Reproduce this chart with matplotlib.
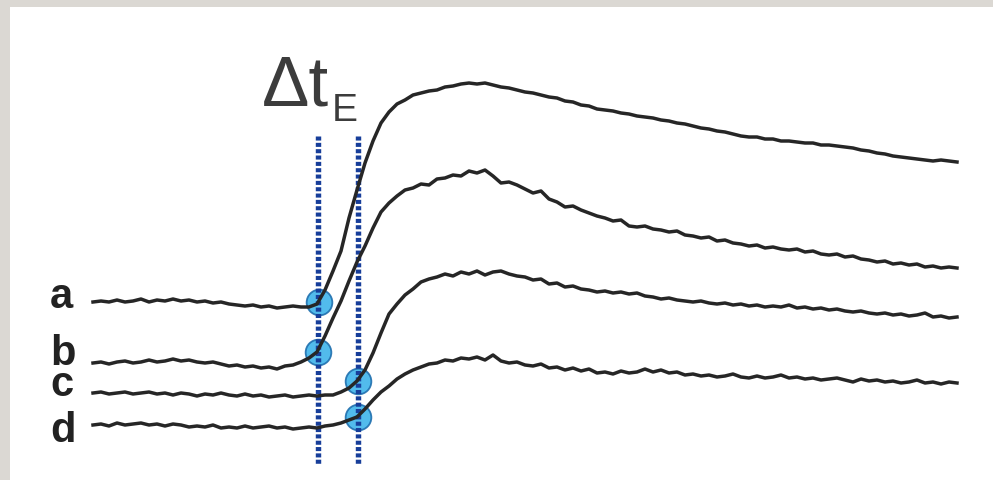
import numpy as np
import matplotlib
matplotlib.use("Agg")
import matplotlib.pyplot as plt
from matplotlib.patches import Rectangle

# ---- data (time samples in display units; amplitude in display units, larger = lower) ----
t_start = 93
t_step = 8
trace_labels = ["a", "b", "c", "d"]

trace_a = [302, 301, 302, 300, 302, 301, 299, 302, 300, 301, 299, 301, 300, 302, 301, 303,
           302, 304, 305, 306, 305, 307, 306, 308, 307, 306, 307, 307, 304, 290, 271, 251,
           218, 190, 163, 141, 123, 112, 104, 100, 95, 93, 91, 90, 87, 86, 84, 83,
           84, 83, 85, 87, 88, 90, 92, 93, 95, 97, 98, 101, 102, 105, 106, 109,
           110, 111, 113, 114, 116, 117, 118, 120, 121, 123, 124, 126, 128, 129, 131, 132,
           134, 136, 137, 137, 139, 139, 141, 141, 142, 143, 143, 145, 145, 146, 147, 148,
           150, 151, 153, 154, 156, 157, 158, 159, 160, 161, 160, 161, 162]

trace_b = [363, 362, 364, 362, 361, 363, 362, 360, 362, 361, 359, 361, 360, 362, 363, 362,
           364, 366, 365, 367, 366, 368, 367, 369, 366, 365, 362, 358, 352, 336, 318, 301,
           281, 262, 246, 228, 212, 203, 196, 190, 188, 184, 185, 179, 178, 175, 176, 171,
           173, 170, 176, 183, 182, 185, 189, 193, 191, 199, 202, 207, 206, 210, 213, 216,
           218, 221, 220, 226, 227, 226, 229, 230, 232, 231, 235, 236, 238, 237, 241, 240,
           243, 244, 246, 245, 248, 247, 249, 250, 249, 252, 251, 254, 255, 254, 257, 256,
           259, 260, 262, 261, 264, 263, 265, 264, 267, 266, 268, 267, 268]

trace_c = [393, 392, 394, 393, 392, 394, 393, 392, 394, 393, 395, 393, 394, 396, 394, 395,
           393, 395, 396, 394, 396, 395, 397, 396, 395, 397, 396, 395, 396, 395, 395, 392,
           388, 381, 370, 353, 333, 314, 304, 295, 289, 282, 279, 277, 274, 276, 272, 274,
           271, 275, 272, 271, 274, 276, 277, 280, 279, 284, 283, 287, 286, 289, 290, 292,
           291, 293, 292, 294, 293, 296, 297, 299, 298, 300, 301, 302, 301, 303, 304, 303,
           305, 304, 306, 305, 307, 306, 307, 305, 308, 307, 309, 308, 310, 309, 311, 312,
           311, 313, 314, 313, 315, 314, 316, 315, 313, 317, 316, 318, 317]

trace_d = [425, 424, 426, 423, 425, 424, 423, 425, 424, 426, 424, 425, 427, 426, 427, 425,
           428, 427, 428, 426, 428, 427, 426, 428, 427, 429, 428, 427, 428, 426, 425, 423,
           420, 417, 409, 400, 392, 386, 379, 374, 370, 367, 364, 363, 360, 361, 358, 359,
           357, 360, 355, 361, 363, 362, 365, 366, 364, 368, 367, 370, 368, 371, 369, 373,
           372, 374, 371, 373, 372, 369, 372, 370, 373, 372, 375, 374, 376, 375, 377, 376,
           374, 377, 378, 376, 378, 377, 375, 378, 377, 379, 378, 380, 379, 378, 380, 382,
           379, 381, 380, 382, 381, 383, 382, 380, 383, 382, 384, 382, 383]

onset_times = [319, 318, 358, 358]
onset_values = [302, 352, 381, 417]
marker_lines = [318, 358]
marker_range = (136, 465)

# ---- figure ----
fig = plt.figure(figsize=(9.93, 4.8), dpi=100)
fig.patch.set_facecolor("#dbd8d3")
ax = fig.add_axes([0, 0, 1, 1])
ax.set_xlim(0, 993)
ax.set_ylim(480, 0)
ax.axis("off")
ax.add_patch(Rectangle((10, 7), 990, 480, facecolor="white", edgecolor="none", zorder=0))

traces = [trace_a, trace_b, trace_c, trace_d]
for tr in traces:
    t = t_start + t_step * np.arange(len(tr))
    ax.plot(t, tr, color="#262626", lw=2.5, solid_joinstyle="round", zorder=3)

# onset circles
ax.plot(onset_times, onset_values, "o", ms=18.5, mfc="#3fb4ea", mec="#1f6fae", mew=1.3,
        alpha=0.9, zorder=1, ls="none")

# dotted vertical lines
for xv in marker_lines:
    ax.plot([xv, xv], marker_range, color="#173e9a", lw=3.9,
            ls=(0, (0.75, 0.42)), dash_capstyle="butt", zorder=2)

# labels
label_y = [308, 365, 396, 442]
for lab, yb in zip(trace_labels, label_y):
    ax.text(50, yb, lab, fontsize=30, fontweight="bold", family="Liberation Sans",
            color="#222222", ha="left", va="baseline")

ax.text(262, 105, "\u0394t", fontsize=51, family="Liberation Sans", color="#3c3c3c",
        ha="left", va="baseline")
ax.text(332, 121, "E", fontsize=28, family="Liberation Sans", color="#3c3c3c",
        ha="left", va="baseline")

fig.savefig("out.png", dpi=100, facecolor=fig.get_facecolor())
